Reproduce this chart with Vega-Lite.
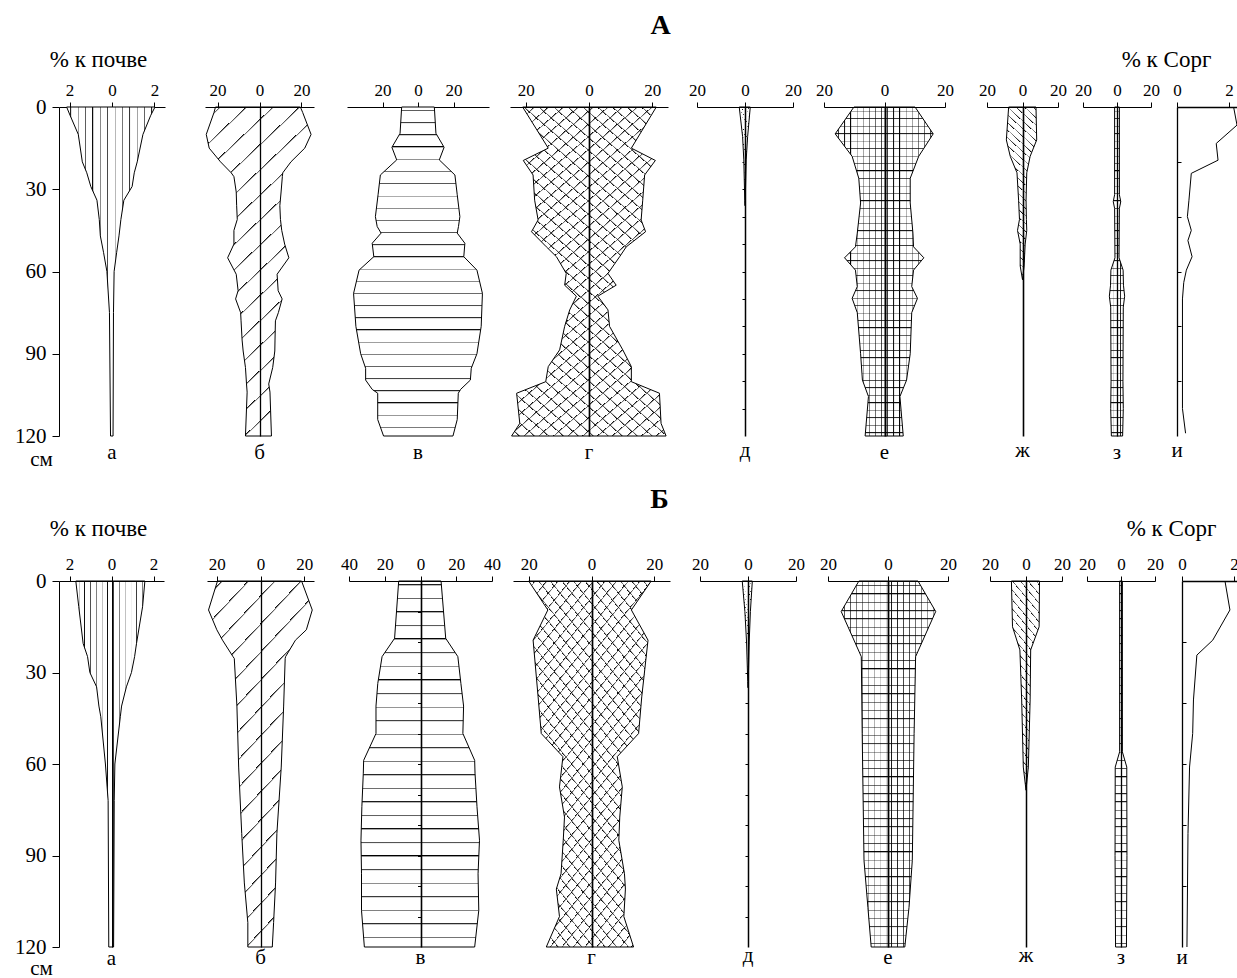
{
"$schema":"https://vega.github.io/schema/vega-lite/v6.json",
"padding":{"left":14,"top":11,"right":0,"bottom":0},
"background":"white",
"params":[
{"name":"G_hv","value":{"gradient":"linear","x1":0,"y1":0,"x2":1,"y2":0,"stops":[
{"offset":0.042,"color":"#fff"},{"offset":0.042,"color":"#000"},{"offset":0.057,"color":"#fff"},
{"offset":0.125,"color":"#fff"},{"offset":0.125,"color":"#000"},{"offset":0.14,"color":"#fff"},
{"offset":0.208,"color":"#fff"},{"offset":0.208,"color":"#000"},{"offset":0.223,"color":"#fff"},
{"offset":0.292,"color":"#fff"},{"offset":0.292,"color":"#000"},{"offset":0.307,"color":"#fff"},
{"offset":0.375,"color":"#fff"},{"offset":0.375,"color":"#000"},{"offset":0.39,"color":"#fff"},
{"offset":0.458,"color":"#fff"},{"offset":0.458,"color":"#000"},{"offset":0.473,"color":"#fff"},
{"offset":0.542,"color":"#fff"},{"offset":0.542,"color":"#000"},{"offset":0.557,"color":"#fff"},
{"offset":0.625,"color":"#fff"},{"offset":0.625,"color":"#000"},{"offset":0.64,"color":"#fff"},
{"offset":0.708,"color":"#fff"},{"offset":0.708,"color":"#000"},{"offset":0.723,"color":"#fff"},
{"offset":0.792,"color":"#fff"},{"offset":0.792,"color":"#000"},{"offset":0.807,"color":"#fff"},
{"offset":0.875,"color":"#fff"},{"offset":0.875,"color":"#000"},{"offset":0.89,"color":"#fff"},
{"offset":0.958,"color":"#fff"},{"offset":0.958,"color":"#000"},{"offset":0.973,"color":"#fff"}]}},
{"name":"G_hh","value":{"gradient":"linear","x1":0,"y1":0,"x2":0,"y2":1,"stops":[
{"offset":0.009,"color":"#fff"},{"offset":0.009,"color":"#000"},{"offset":0.0135,"color":"#fff"},
{"offset":0.046,"color":"#fff"},{"offset":0.046,"color":"#000"},{"offset":0.0505,"color":"#fff"},
{"offset":0.083,"color":"#fff"},{"offset":0.083,"color":"#000"},{"offset":0.0875,"color":"#fff"},
{"offset":0.12,"color":"#fff"},{"offset":0.12,"color":"#000"},{"offset":0.1245,"color":"#fff"},
{"offset":0.157,"color":"#fff"},{"offset":0.157,"color":"#000"},{"offset":0.1615,"color":"#fff"},
{"offset":0.194,"color":"#fff"},{"offset":0.194,"color":"#000"},{"offset":0.1985,"color":"#fff"},
{"offset":0.231,"color":"#fff"},{"offset":0.231,"color":"#000"},{"offset":0.2355,"color":"#fff"},
{"offset":0.269,"color":"#fff"},{"offset":0.269,"color":"#000"},{"offset":0.2735,"color":"#fff"},
{"offset":0.306,"color":"#fff"},{"offset":0.306,"color":"#000"},{"offset":0.3105,"color":"#fff"},
{"offset":0.343,"color":"#fff"},{"offset":0.343,"color":"#000"},{"offset":0.3475,"color":"#fff"},
{"offset":0.38,"color":"#fff"},{"offset":0.38,"color":"#000"},{"offset":0.3845,"color":"#fff"},
{"offset":0.417,"color":"#fff"},{"offset":0.417,"color":"#000"},{"offset":0.4215,"color":"#fff"},
{"offset":0.454,"color":"#fff"},{"offset":0.454,"color":"#000"},{"offset":0.4585,"color":"#fff"},
{"offset":0.491,"color":"#fff"},{"offset":0.491,"color":"#000"},{"offset":0.4955,"color":"#fff"},
{"offset":0.528,"color":"#fff"},{"offset":0.528,"color":"#000"},{"offset":0.5325,"color":"#fff"},
{"offset":0.565,"color":"#fff"},{"offset":0.565,"color":"#000"},{"offset":0.5695,"color":"#fff"},
{"offset":0.602,"color":"#fff"},{"offset":0.602,"color":"#000"},{"offset":0.6065,"color":"#fff"},
{"offset":0.639,"color":"#fff"},{"offset":0.639,"color":"#000"},{"offset":0.6435,"color":"#fff"},
{"offset":0.676,"color":"#fff"},{"offset":0.676,"color":"#000"},{"offset":0.6805,"color":"#fff"},
{"offset":0.713,"color":"#fff"},{"offset":0.713,"color":"#000"},{"offset":0.7175,"color":"#fff"},
{"offset":0.75,"color":"#fff"},{"offset":0.75,"color":"#000"},{"offset":0.7545,"color":"#fff"},
{"offset":0.787,"color":"#fff"},{"offset":0.787,"color":"#000"},{"offset":0.7915,"color":"#fff"},
{"offset":0.824,"color":"#fff"},{"offset":0.824,"color":"#000"},{"offset":0.8285,"color":"#fff"},
{"offset":0.861,"color":"#fff"},{"offset":0.861,"color":"#000"},{"offset":0.8655,"color":"#fff"},
{"offset":0.898,"color":"#fff"},{"offset":0.898,"color":"#000"},{"offset":0.9025,"color":"#fff"},
{"offset":0.935,"color":"#fff"},{"offset":0.935,"color":"#000"},{"offset":0.9395,"color":"#fff"},
{"offset":0.972,"color":"#fff"},{"offset":0.972,"color":"#000"},{"offset":0.9765,"color":"#fff"}]}},
{"name":"G_hd","value":{"gradient":"linear","x1":0,"y1":0,"x2":0.36,"y2":1.19,"stops":[
{"offset":0.029,"color":"#fff"},{"offset":0.029,"color":"#000"},{"offset":0.034,"color":"#fff"},
{"offset":0.088,"color":"#fff"},{"offset":0.088,"color":"#000"},{"offset":0.093,"color":"#fff"},
{"offset":0.147,"color":"#fff"},{"offset":0.147,"color":"#000"},{"offset":0.152,"color":"#fff"},
{"offset":0.206,"color":"#fff"},{"offset":0.206,"color":"#000"},{"offset":0.211,"color":"#fff"},
{"offset":0.265,"color":"#fff"},{"offset":0.265,"color":"#000"},{"offset":0.27,"color":"#fff"},
{"offset":0.324,"color":"#fff"},{"offset":0.324,"color":"#000"},{"offset":0.329,"color":"#fff"},
{"offset":0.382,"color":"#fff"},{"offset":0.382,"color":"#000"},{"offset":0.387,"color":"#fff"},
{"offset":0.441,"color":"#fff"},{"offset":0.441,"color":"#000"},{"offset":0.446,"color":"#fff"},
{"offset":0.5,"color":"#fff"},{"offset":0.5,"color":"#000"},{"offset":0.505,"color":"#fff"},
{"offset":0.559,"color":"#fff"},{"offset":0.559,"color":"#000"},{"offset":0.564,"color":"#fff"},
{"offset":0.618,"color":"#fff"},{"offset":0.618,"color":"#000"},{"offset":0.623,"color":"#fff"},
{"offset":0.676,"color":"#fff"},{"offset":0.676,"color":"#000"},{"offset":0.681,"color":"#fff"},
{"offset":0.735,"color":"#fff"},{"offset":0.735,"color":"#000"},{"offset":0.74,"color":"#fff"},
{"offset":0.794,"color":"#fff"},{"offset":0.794,"color":"#000"},{"offset":0.799,"color":"#fff"},
{"offset":0.853,"color":"#fff"},{"offset":0.853,"color":"#000"},{"offset":0.858,"color":"#fff"},
{"offset":0.912,"color":"#fff"},{"offset":0.912,"color":"#000"},{"offset":0.917,"color":"#fff"},
{"offset":0.971,"color":"#fff"},{"offset":0.971,"color":"#000"},{"offset":0.976,"color":"#fff"}]}},
{"name":"G_g1","value":{"gradient":"linear","x1":0,"y1":0,"x2":0.49,"y2":1.2,"stops":[
{"offset":0.014,"color":"#fff"},{"offset":0.014,"color":"#000"},{"offset":0.018,"color":"#fff"},
{"offset":0.042,"color":"#fff"},{"offset":0.042,"color":"#000"},{"offset":0.046,"color":"#fff"},
{"offset":0.069,"color":"#fff"},{"offset":0.069,"color":"#000"},{"offset":0.073,"color":"#fff"},
{"offset":0.097,"color":"#fff"},{"offset":0.097,"color":"#000"},{"offset":0.101,"color":"#fff"},
{"offset":0.125,"color":"#fff"},{"offset":0.125,"color":"#000"},{"offset":0.129,"color":"#fff"},
{"offset":0.153,"color":"#fff"},{"offset":0.153,"color":"#000"},{"offset":0.157,"color":"#fff"},
{"offset":0.181,"color":"#fff"},{"offset":0.181,"color":"#000"},{"offset":0.185,"color":"#fff"},
{"offset":0.208,"color":"#fff"},{"offset":0.208,"color":"#000"},{"offset":0.212,"color":"#fff"},
{"offset":0.236,"color":"#fff"},{"offset":0.236,"color":"#000"},{"offset":0.24,"color":"#fff"},
{"offset":0.264,"color":"#fff"},{"offset":0.264,"color":"#000"},{"offset":0.268,"color":"#fff"},
{"offset":0.292,"color":"#fff"},{"offset":0.292,"color":"#000"},{"offset":0.296,"color":"#fff"},
{"offset":0.319,"color":"#fff"},{"offset":0.319,"color":"#000"},{"offset":0.323,"color":"#fff"},
{"offset":0.347,"color":"#fff"},{"offset":0.347,"color":"#000"},{"offset":0.351,"color":"#fff"},
{"offset":0.375,"color":"#fff"},{"offset":0.375,"color":"#000"},{"offset":0.379,"color":"#fff"},
{"offset":0.403,"color":"#fff"},{"offset":0.403,"color":"#000"},{"offset":0.407,"color":"#fff"},
{"offset":0.431,"color":"#fff"},{"offset":0.431,"color":"#000"},{"offset":0.435,"color":"#fff"},
{"offset":0.458,"color":"#fff"},{"offset":0.458,"color":"#000"},{"offset":0.462,"color":"#fff"},
{"offset":0.486,"color":"#fff"},{"offset":0.486,"color":"#000"},{"offset":0.49,"color":"#fff"},
{"offset":0.514,"color":"#fff"},{"offset":0.514,"color":"#000"},{"offset":0.518,"color":"#fff"},
{"offset":0.542,"color":"#fff"},{"offset":0.542,"color":"#000"},{"offset":0.546,"color":"#fff"},
{"offset":0.569,"color":"#fff"},{"offset":0.569,"color":"#000"},{"offset":0.573,"color":"#fff"},
{"offset":0.597,"color":"#fff"},{"offset":0.597,"color":"#000"},{"offset":0.601,"color":"#fff"},
{"offset":0.625,"color":"#fff"},{"offset":0.625,"color":"#000"},{"offset":0.629,"color":"#fff"},
{"offset":0.653,"color":"#fff"},{"offset":0.653,"color":"#000"},{"offset":0.657,"color":"#fff"},
{"offset":0.681,"color":"#fff"},{"offset":0.681,"color":"#000"},{"offset":0.685,"color":"#fff"},
{"offset":0.708,"color":"#fff"},{"offset":0.708,"color":"#000"},{"offset":0.712,"color":"#fff"},
{"offset":0.736,"color":"#fff"},{"offset":0.736,"color":"#000"},{"offset":0.74,"color":"#fff"},
{"offset":0.764,"color":"#fff"},{"offset":0.764,"color":"#000"},{"offset":0.768,"color":"#fff"},
{"offset":0.792,"color":"#fff"},{"offset":0.792,"color":"#000"},{"offset":0.796,"color":"#fff"},
{"offset":0.819,"color":"#fff"},{"offset":0.819,"color":"#000"},{"offset":0.823,"color":"#fff"},
{"offset":0.847,"color":"#fff"},{"offset":0.847,"color":"#000"},{"offset":0.851,"color":"#fff"},
{"offset":0.875,"color":"#fff"},{"offset":0.875,"color":"#000"},{"offset":0.879,"color":"#fff"},
{"offset":0.903,"color":"#fff"},{"offset":0.903,"color":"#000"},{"offset":0.907,"color":"#fff"},
{"offset":0.931,"color":"#fff"},{"offset":0.931,"color":"#000"},{"offset":0.935,"color":"#fff"},
{"offset":0.958,"color":"#fff"},{"offset":0.958,"color":"#000"},{"offset":0.962,"color":"#fff"},
{"offset":0.986,"color":"#fff"},{"offset":0.986,"color":"#000"},{"offset":0.99,"color":"#fff"}]}},
{"name":"G_g2","value":{"gradient":"linear","x1":0,"y1":1,"x2":0.49,"y2":-0.2,"stops":[
{"offset":0.014,"color":"rgba(0,0,0,0)"},{"offset":0.014,"color":"#000"},{"offset":0.018,"color":"rgba(0,0,0,0)"},
{"offset":0.042,"color":"rgba(0,0,0,0)"},{"offset":0.042,"color":"#000"},{"offset":0.046,"color":"rgba(0,0,0,0)"},
{"offset":0.069,"color":"rgba(0,0,0,0)"},{"offset":0.069,"color":"#000"},{"offset":0.073,"color":"rgba(0,0,0,0)"},
{"offset":0.097,"color":"rgba(0,0,0,0)"},{"offset":0.097,"color":"#000"},{"offset":0.101,"color":"rgba(0,0,0,0)"},
{"offset":0.125,"color":"rgba(0,0,0,0)"},{"offset":0.125,"color":"#000"},{"offset":0.129,"color":"rgba(0,0,0,0)"},
{"offset":0.153,"color":"rgba(0,0,0,0)"},{"offset":0.153,"color":"#000"},{"offset":0.157,"color":"rgba(0,0,0,0)"},
{"offset":0.181,"color":"rgba(0,0,0,0)"},{"offset":0.181,"color":"#000"},{"offset":0.185,"color":"rgba(0,0,0,0)"},
{"offset":0.208,"color":"rgba(0,0,0,0)"},{"offset":0.208,"color":"#000"},{"offset":0.212,"color":"rgba(0,0,0,0)"},
{"offset":0.236,"color":"rgba(0,0,0,0)"},{"offset":0.236,"color":"#000"},{"offset":0.24,"color":"rgba(0,0,0,0)"},
{"offset":0.264,"color":"rgba(0,0,0,0)"},{"offset":0.264,"color":"#000"},{"offset":0.268,"color":"rgba(0,0,0,0)"},
{"offset":0.292,"color":"rgba(0,0,0,0)"},{"offset":0.292,"color":"#000"},{"offset":0.296,"color":"rgba(0,0,0,0)"},
{"offset":0.319,"color":"rgba(0,0,0,0)"},{"offset":0.319,"color":"#000"},{"offset":0.323,"color":"rgba(0,0,0,0)"},
{"offset":0.347,"color":"rgba(0,0,0,0)"},{"offset":0.347,"color":"#000"},{"offset":0.351,"color":"rgba(0,0,0,0)"},
{"offset":0.375,"color":"rgba(0,0,0,0)"},{"offset":0.375,"color":"#000"},{"offset":0.379,"color":"rgba(0,0,0,0)"},
{"offset":0.403,"color":"rgba(0,0,0,0)"},{"offset":0.403,"color":"#000"},{"offset":0.407,"color":"rgba(0,0,0,0)"},
{"offset":0.431,"color":"rgba(0,0,0,0)"},{"offset":0.431,"color":"#000"},{"offset":0.435,"color":"rgba(0,0,0,0)"},
{"offset":0.458,"color":"rgba(0,0,0,0)"},{"offset":0.458,"color":"#000"},{"offset":0.462,"color":"rgba(0,0,0,0)"},
{"offset":0.486,"color":"rgba(0,0,0,0)"},{"offset":0.486,"color":"#000"},{"offset":0.49,"color":"rgba(0,0,0,0)"},
{"offset":0.514,"color":"rgba(0,0,0,0)"},{"offset":0.514,"color":"#000"},{"offset":0.518,"color":"rgba(0,0,0,0)"},
{"offset":0.542,"color":"rgba(0,0,0,0)"},{"offset":0.542,"color":"#000"},{"offset":0.546,"color":"rgba(0,0,0,0)"},
{"offset":0.569,"color":"rgba(0,0,0,0)"},{"offset":0.569,"color":"#000"},{"offset":0.573,"color":"rgba(0,0,0,0)"},
{"offset":0.597,"color":"rgba(0,0,0,0)"},{"offset":0.597,"color":"#000"},{"offset":0.601,"color":"rgba(0,0,0,0)"},
{"offset":0.625,"color":"rgba(0,0,0,0)"},{"offset":0.625,"color":"#000"},{"offset":0.629,"color":"rgba(0,0,0,0)"},
{"offset":0.653,"color":"rgba(0,0,0,0)"},{"offset":0.653,"color":"#000"},{"offset":0.657,"color":"rgba(0,0,0,0)"},
{"offset":0.681,"color":"rgba(0,0,0,0)"},{"offset":0.681,"color":"#000"},{"offset":0.685,"color":"rgba(0,0,0,0)"},
{"offset":0.708,"color":"rgba(0,0,0,0)"},{"offset":0.708,"color":"#000"},{"offset":0.712,"color":"rgba(0,0,0,0)"},
{"offset":0.736,"color":"rgba(0,0,0,0)"},{"offset":0.736,"color":"#000"},{"offset":0.74,"color":"rgba(0,0,0,0)"},
{"offset":0.764,"color":"rgba(0,0,0,0)"},{"offset":0.764,"color":"#000"},{"offset":0.768,"color":"rgba(0,0,0,0)"},
{"offset":0.792,"color":"rgba(0,0,0,0)"},{"offset":0.792,"color":"#000"},{"offset":0.796,"color":"rgba(0,0,0,0)"},
{"offset":0.819,"color":"rgba(0,0,0,0)"},{"offset":0.819,"color":"#000"},{"offset":0.823,"color":"rgba(0,0,0,0)"},
{"offset":0.847,"color":"rgba(0,0,0,0)"},{"offset":0.847,"color":"#000"},{"offset":0.851,"color":"rgba(0,0,0,0)"},
{"offset":0.875,"color":"rgba(0,0,0,0)"},{"offset":0.875,"color":"#000"},{"offset":0.879,"color":"rgba(0,0,0,0)"},
{"offset":0.903,"color":"rgba(0,0,0,0)"},{"offset":0.903,"color":"#000"},{"offset":0.907,"color":"rgba(0,0,0,0)"},
{"offset":0.931,"color":"rgba(0,0,0,0)"},{"offset":0.931,"color":"#000"},{"offset":0.935,"color":"rgba(0,0,0,0)"},
{"offset":0.958,"color":"rgba(0,0,0,0)"},{"offset":0.958,"color":"#000"},{"offset":0.962,"color":"rgba(0,0,0,0)"},
{"offset":0.986,"color":"rgba(0,0,0,0)"},{"offset":0.986,"color":"#000"},{"offset":0.99,"color":"rgba(0,0,0,0)"}]}},
{"name":"G_jd","value":{"gradient":"linear","x1":0,"y1":1,"x2":0.18,"y2":-0.13,"stops":[
{"offset":0.019,"color":"#fff"},{"offset":0.019,"color":"#000"},{"offset":0.026,"color":"#fff"},
{"offset":0.058,"color":"#fff"},{"offset":0.058,"color":"#000"},{"offset":0.065,"color":"#fff"},
{"offset":0.096,"color":"#fff"},{"offset":0.096,"color":"#000"},{"offset":0.103,"color":"#fff"},
{"offset":0.135,"color":"#fff"},{"offset":0.135,"color":"#000"},{"offset":0.142,"color":"#fff"},
{"offset":0.173,"color":"#fff"},{"offset":0.173,"color":"#000"},{"offset":0.18,"color":"#fff"},
{"offset":0.212,"color":"#fff"},{"offset":0.212,"color":"#000"},{"offset":0.219,"color":"#fff"},
{"offset":0.25,"color":"#fff"},{"offset":0.25,"color":"#000"},{"offset":0.257,"color":"#fff"},
{"offset":0.288,"color":"#fff"},{"offset":0.288,"color":"#000"},{"offset":0.295,"color":"#fff"},
{"offset":0.327,"color":"#fff"},{"offset":0.327,"color":"#000"},{"offset":0.334,"color":"#fff"},
{"offset":0.365,"color":"#fff"},{"offset":0.365,"color":"#000"},{"offset":0.372,"color":"#fff"},
{"offset":0.404,"color":"#fff"},{"offset":0.404,"color":"#000"},{"offset":0.411,"color":"#fff"},
{"offset":0.442,"color":"#fff"},{"offset":0.442,"color":"#000"},{"offset":0.449,"color":"#fff"},
{"offset":0.481,"color":"#fff"},{"offset":0.481,"color":"#000"},{"offset":0.488,"color":"#fff"},
{"offset":0.519,"color":"#fff"},{"offset":0.519,"color":"#000"},{"offset":0.526,"color":"#fff"},
{"offset":0.558,"color":"#fff"},{"offset":0.558,"color":"#000"},{"offset":0.565,"color":"#fff"},
{"offset":0.596,"color":"#fff"},{"offset":0.596,"color":"#000"},{"offset":0.603,"color":"#fff"},
{"offset":0.635,"color":"#fff"},{"offset":0.635,"color":"#000"},{"offset":0.642,"color":"#fff"},
{"offset":0.673,"color":"#fff"},{"offset":0.673,"color":"#000"},{"offset":0.68,"color":"#fff"},
{"offset":0.712,"color":"#fff"},{"offset":0.712,"color":"#000"},{"offset":0.719,"color":"#fff"},
{"offset":0.75,"color":"#fff"},{"offset":0.75,"color":"#000"},{"offset":0.757,"color":"#fff"},
{"offset":0.788,"color":"#fff"},{"offset":0.788,"color":"#000"},{"offset":0.795,"color":"#fff"},
{"offset":0.827,"color":"#fff"},{"offset":0.827,"color":"#000"},{"offset":0.834,"color":"#fff"},
{"offset":0.865,"color":"#fff"},{"offset":0.865,"color":"#000"},{"offset":0.872,"color":"#fff"},
{"offset":0.904,"color":"#fff"},{"offset":0.904,"color":"#000"},{"offset":0.911,"color":"#fff"},
{"offset":0.942,"color":"#fff"},{"offset":0.942,"color":"#000"},{"offset":0.949,"color":"#fff"},
{"offset":0.981,"color":"#fff"},{"offset":0.981,"color":"#000"},{"offset":0.988,"color":"#fff"}]}},
{"name":"G_eh","value":{"gradient":"linear","x1":0,"y1":0,"x2":0,"y2":1,"stops":[
{"offset":0.011,"color":"#fff"},{"offset":0.011,"color":"#000"},{"offset":0.015,"color":"#fff"},
{"offset":0.034,"color":"#fff"},{"offset":0.034,"color":"#000"},{"offset":0.038,"color":"#fff"},
{"offset":0.057,"color":"#fff"},{"offset":0.057,"color":"#000"},{"offset":0.061,"color":"#fff"},
{"offset":0.08,"color":"#fff"},{"offset":0.08,"color":"#000"},{"offset":0.084,"color":"#fff"},
{"offset":0.102,"color":"#fff"},{"offset":0.102,"color":"#000"},{"offset":0.106,"color":"#fff"},
{"offset":0.125,"color":"#fff"},{"offset":0.125,"color":"#000"},{"offset":0.129,"color":"#fff"},
{"offset":0.148,"color":"#fff"},{"offset":0.148,"color":"#000"},{"offset":0.152,"color":"#fff"},
{"offset":0.17,"color":"#fff"},{"offset":0.17,"color":"#000"},{"offset":0.174,"color":"#fff"},
{"offset":0.193,"color":"#fff"},{"offset":0.193,"color":"#000"},{"offset":0.197,"color":"#fff"},
{"offset":0.216,"color":"#fff"},{"offset":0.216,"color":"#000"},{"offset":0.22,"color":"#fff"},
{"offset":0.239,"color":"#fff"},{"offset":0.239,"color":"#000"},{"offset":0.243,"color":"#fff"},
{"offset":0.261,"color":"#fff"},{"offset":0.261,"color":"#000"},{"offset":0.265,"color":"#fff"},
{"offset":0.284,"color":"#fff"},{"offset":0.284,"color":"#000"},{"offset":0.288,"color":"#fff"},
{"offset":0.307,"color":"#fff"},{"offset":0.307,"color":"#000"},{"offset":0.311,"color":"#fff"},
{"offset":0.33,"color":"#fff"},{"offset":0.33,"color":"#000"},{"offset":0.334,"color":"#fff"},
{"offset":0.352,"color":"#fff"},{"offset":0.352,"color":"#000"},{"offset":0.356,"color":"#fff"},
{"offset":0.375,"color":"#fff"},{"offset":0.375,"color":"#000"},{"offset":0.379,"color":"#fff"},
{"offset":0.398,"color":"#fff"},{"offset":0.398,"color":"#000"},{"offset":0.402,"color":"#fff"},
{"offset":0.42,"color":"#fff"},{"offset":0.42,"color":"#000"},{"offset":0.424,"color":"#fff"},
{"offset":0.443,"color":"#fff"},{"offset":0.443,"color":"#000"},{"offset":0.447,"color":"#fff"},
{"offset":0.466,"color":"#fff"},{"offset":0.466,"color":"#000"},{"offset":0.47,"color":"#fff"},
{"offset":0.489,"color":"#fff"},{"offset":0.489,"color":"#000"},{"offset":0.493,"color":"#fff"},
{"offset":0.511,"color":"#fff"},{"offset":0.511,"color":"#000"},{"offset":0.515,"color":"#fff"},
{"offset":0.534,"color":"#fff"},{"offset":0.534,"color":"#000"},{"offset":0.538,"color":"#fff"},
{"offset":0.557,"color":"#fff"},{"offset":0.557,"color":"#000"},{"offset":0.561,"color":"#fff"},
{"offset":0.58,"color":"#fff"},{"offset":0.58,"color":"#000"},{"offset":0.584,"color":"#fff"},
{"offset":0.602,"color":"#fff"},{"offset":0.602,"color":"#000"},{"offset":0.606,"color":"#fff"},
{"offset":0.625,"color":"#fff"},{"offset":0.625,"color":"#000"},{"offset":0.629,"color":"#fff"},
{"offset":0.648,"color":"#fff"},{"offset":0.648,"color":"#000"},{"offset":0.652,"color":"#fff"},
{"offset":0.67,"color":"#fff"},{"offset":0.67,"color":"#000"},{"offset":0.674,"color":"#fff"},
{"offset":0.693,"color":"#fff"},{"offset":0.693,"color":"#000"},{"offset":0.697,"color":"#fff"},
{"offset":0.716,"color":"#fff"},{"offset":0.716,"color":"#000"},{"offset":0.72,"color":"#fff"},
{"offset":0.739,"color":"#fff"},{"offset":0.739,"color":"#000"},{"offset":0.743,"color":"#fff"},
{"offset":0.761,"color":"#fff"},{"offset":0.761,"color":"#000"},{"offset":0.765,"color":"#fff"},
{"offset":0.784,"color":"#fff"},{"offset":0.784,"color":"#000"},{"offset":0.788,"color":"#fff"},
{"offset":0.807,"color":"#fff"},{"offset":0.807,"color":"#000"},{"offset":0.811,"color":"#fff"},
{"offset":0.83,"color":"#fff"},{"offset":0.83,"color":"#000"},{"offset":0.834,"color":"#fff"},
{"offset":0.852,"color":"#fff"},{"offset":0.852,"color":"#000"},{"offset":0.856,"color":"#fff"},
{"offset":0.875,"color":"#fff"},{"offset":0.875,"color":"#000"},{"offset":0.879,"color":"#fff"},
{"offset":0.898,"color":"#fff"},{"offset":0.898,"color":"#000"},{"offset":0.902,"color":"#fff"},
{"offset":0.92,"color":"#fff"},{"offset":0.92,"color":"#000"},{"offset":0.924,"color":"#fff"},
{"offset":0.943,"color":"#fff"},{"offset":0.943,"color":"#000"},{"offset":0.947,"color":"#fff"},
{"offset":0.966,"color":"#fff"},{"offset":0.966,"color":"#000"},{"offset":0.97,"color":"#fff"},
{"offset":0.989,"color":"#fff"},{"offset":0.989,"color":"#000"},{"offset":0.993,"color":"#fff"}]}},
{"name":"G_ev","value":{"gradient":"linear","x1":0,"y1":0,"x2":1,"y2":0,"stops":[
{"offset":0.031,"color":"rgba(0,0,0,0)"},{"offset":0.031,"color":"#000"},{"offset":0.043,"color":"rgba(0,0,0,0)"},
{"offset":0.094,"color":"rgba(0,0,0,0)"},{"offset":0.094,"color":"#000"},{"offset":0.106,"color":"rgba(0,0,0,0)"},
{"offset":0.156,"color":"rgba(0,0,0,0)"},{"offset":0.156,"color":"#000"},{"offset":0.168,"color":"rgba(0,0,0,0)"},
{"offset":0.219,"color":"rgba(0,0,0,0)"},{"offset":0.219,"color":"#000"},{"offset":0.231,"color":"rgba(0,0,0,0)"},
{"offset":0.281,"color":"rgba(0,0,0,0)"},{"offset":0.281,"color":"#000"},{"offset":0.293,"color":"rgba(0,0,0,0)"},
{"offset":0.344,"color":"rgba(0,0,0,0)"},{"offset":0.344,"color":"#000"},{"offset":0.356,"color":"rgba(0,0,0,0)"},
{"offset":0.406,"color":"rgba(0,0,0,0)"},{"offset":0.406,"color":"#000"},{"offset":0.418,"color":"rgba(0,0,0,0)"},
{"offset":0.469,"color":"rgba(0,0,0,0)"},{"offset":0.469,"color":"#000"},{"offset":0.481,"color":"rgba(0,0,0,0)"},
{"offset":0.531,"color":"rgba(0,0,0,0)"},{"offset":0.531,"color":"#000"},{"offset":0.543,"color":"rgba(0,0,0,0)"},
{"offset":0.594,"color":"rgba(0,0,0,0)"},{"offset":0.594,"color":"#000"},{"offset":0.606,"color":"rgba(0,0,0,0)"},
{"offset":0.656,"color":"rgba(0,0,0,0)"},{"offset":0.656,"color":"#000"},{"offset":0.668,"color":"rgba(0,0,0,0)"},
{"offset":0.719,"color":"rgba(0,0,0,0)"},{"offset":0.719,"color":"#000"},{"offset":0.731,"color":"rgba(0,0,0,0)"},
{"offset":0.781,"color":"rgba(0,0,0,0)"},{"offset":0.781,"color":"#000"},{"offset":0.793,"color":"rgba(0,0,0,0)"},
{"offset":0.844,"color":"rgba(0,0,0,0)"},{"offset":0.844,"color":"#000"},{"offset":0.856,"color":"rgba(0,0,0,0)"},
{"offset":0.906,"color":"rgba(0,0,0,0)"},{"offset":0.906,"color":"#000"},{"offset":0.918,"color":"rgba(0,0,0,0)"},
{"offset":0.969,"color":"rgba(0,0,0,0)"},{"offset":0.969,"color":"#000"},{"offset":0.981,"color":"rgba(0,0,0,0)"}]}},
{"name":"G_zv","value":{"gradient":"linear","x1":0,"y1":0,"x2":1,"y2":0,"stops":[
{"offset":0.22,"color":"rgba(0,0,0,0)"},{"offset":0.22,"color":"#000"},{"offset":0.28,"color":"rgba(0,0,0,0)"},
{"offset":0.72,"color":"rgba(0,0,0,0)"},{"offset":0.72,"color":"#000"},{"offset":0.78,"color":"rgba(0,0,0,0)"}]}}
],
"datasets":{
"A":[
{"p":"a","d":0,"lo":-2.14,"hi":2.03},{"p":"a","d":3,"lo":-1.98,"hi":1.83},{"p":"a","d":10,"lo":-1.59,"hi":1.46},{"p":"a","d":20,"lo":-1.4,"hi":1.19},{"p":"a","d":24,"lo":-1.19,"hi":1.05},{"p":"a","d":29,"lo":-1.0,"hi":0.95},{"p":"a","d":34,"lo":-0.71,"hi":0.56},{"p":"a","d":41,"lo":-0.6,"hi":0.42},{"p":"a","d":47,"lo":-0.55,"hi":0.33},{"p":"a","d":53,"lo":-0.4,"hi":0.22},{"p":"a","d":60,"lo":-0.24,"hi":0.1},{"p":"a","d":75,"lo":-0.12,"hi":0.07},{"p":"a","d":120,"lo":-0.07,"hi":0.05},
{"p":"b","d":0,"lo":-21,"hi":19.5},{"p":"b","d":2,"lo":-21.7,"hi":20.6},{"p":"b","d":10,"lo":-25.4,"hi":24.6},{"p":"b","d":15,"lo":-24,"hi":21.6},{"p":"b","d":20,"lo":-18.6,"hi":15},{"p":"b","d":24,"lo":-13.5,"hi":11.1},{"p":"b","d":25.4,"lo":-12.2,"hi":10.9},{"p":"b","d":31,"lo":-11.1,"hi":10.3},{"p":"b","d":36,"lo":-10.9,"hi":9.7},{"p":"b","d":41,"lo":-10.6,"hi":10},{"p":"b","d":45,"lo":-12.2,"hi":10.6},{"p":"b","d":50,"lo":-12.2,"hi":12},{"p":"b","d":55,"lo":-15.2,"hi":14},{"p":"b","d":61,"lo":-11.1,"hi":8.4},{"p":"b","d":67,"lo":-10.2,"hi":8.9},{"p":"b","d":70,"lo":-11.4,"hi":10.8},{"p":"b","d":75,"lo":-9,"hi":9},{"p":"b","d":78,"lo":-8.8,"hi":7.6},{"p":"b","d":85,"lo":-8.3,"hi":7.4},{"p":"b","d":89,"lo":-7.8,"hi":7.3},{"p":"b","d":95,"lo":-6.7,"hi":6.3},{"p":"b","d":101,"lo":-6.2,"hi":4.4},{"p":"b","d":104,"lo":-5.9,"hi":5},{"p":"b","d":120,"lo":-6.7,"hi":5.7},
{"p":"v","d":0,"lo":-9.2,"hi":9.2},{"p":"v","d":9.6,"lo":-10.1,"hi":10.1},{"p":"v","d":14.7,"lo":-14.7,"hi":14.7},{"p":"v","d":19.3,"lo":-12,"hi":12},{"p":"v","d":24.8,"lo":-21.2,"hi":20.8},{"p":"v","d":32,"lo":-22.5,"hi":22.1},{"p":"v","d":40,"lo":-24,"hi":23.6},{"p":"v","d":43.6,"lo":-23,"hi":22.8},{"p":"v","d":46,"lo":-20.8,"hi":22.1},{"p":"v","d":49.7,"lo":-25.8,"hi":26.4},{"p":"v","d":54.6,"lo":-24.9,"hi":25.8},{"p":"v","d":59.5,"lo":-33.2,"hi":33.2},{"p":"v","d":68,"lo":-36.3,"hi":36.3},{"p":"v","d":80,"lo":-35,"hi":35.6},{"p":"v","d":90,"lo":-32.3,"hi":33.2},{"p":"v","d":95.3,"lo":-29.5,"hi":30},{"p":"v","d":99.6,"lo":-29.5,"hi":29.5},{"p":"v","d":103,"lo":-25.8,"hi":24},{"p":"v","d":104.4,"lo":-22.7,"hi":22.7},{"p":"v","d":114,"lo":-22.7,"hi":22.1},{"p":"v","d":120,"lo":-19.4,"hi":19.7},
{"p":"g","d":0,"lo":-21,"hi":21.3},{"p":"g","d":15,"lo":-12.9,"hi":13.4},{"p":"g","d":19.5,"lo":-20.8,"hi":21},{"p":"g","d":24.8,"lo":-17.7,"hi":17.6},{"p":"g","d":34,"lo":-17.2,"hi":17},{"p":"g","d":41.2,"lo":-16.1,"hi":16.5},{"p":"g","d":45.5,"lo":-18.2,"hi":17.9},{"p":"g","d":51,"lo":-13.5,"hi":11.8},{"p":"g","d":54.6,"lo":-10.3,"hi":9.7},{"p":"g","d":60.7,"lo":-7.2,"hi":6},{"p":"g","d":65,"lo":-7.7,"hi":8.6},{"p":"g","d":69,"lo":-4,"hi":2.8},{"p":"g","d":74,"lo":-6.1,"hi":6},{"p":"g","d":80,"lo":-7.7,"hi":6.5},{"p":"g","d":88.6,"lo":-9.3,"hi":10.7},{"p":"g","d":94.7,"lo":-12.9,"hi":13.4},{"p":"g","d":100.2,"lo":-13.7,"hi":13.4},{"p":"g","d":104.4,"lo":-22.9,"hi":22.3},{"p":"g","d":115.4,"lo":-21.9,"hi":22.8},{"p":"g","d":120,"lo":-24.5,"hi":24.4},
{"p":"d","d":0,"lo":-2.4,"hi":2.2},{"p":"d","d":10.8,"lo":-1.0,"hi":1.1},{"p":"d","d":19.3,"lo":-0.5,"hi":0.5},{"p":"d","d":34,"lo":-0.1,"hi":0.1},{"p":"d","d":36,"lo":0,"hi":0},
{"p":"e","d":0,"lo":-10.1,"hi":10.1},{"p":"e","d":9.8,"lo":-16.3,"hi":16.1},{"p":"e","d":18,"lo":-10.7,"hi":11.3},{"p":"e","d":26,"lo":-8.5,"hi":8.5},{"p":"e","d":35,"lo":-7.9,"hi":8.5},{"p":"e","d":46,"lo":-9,"hi":9.4},{"p":"e","d":51,"lo":-9.6,"hi":9.6},{"p":"e","d":55,"lo":-13.2,"hi":13},{"p":"e","d":59.5,"lo":-9.6,"hi":9.6},{"p":"e","d":65.5,"lo":-9,"hi":9},{"p":"e","d":69.8,"lo":-10.7,"hi":10.9},{"p":"e","d":75,"lo":-9,"hi":9},{"p":"e","d":90,"lo":-7.9,"hi":8.5},{"p":"e","d":99.6,"lo":-7.3,"hi":7.3},{"p":"e","d":105.6,"lo":-5.3,"hi":5.1},{"p":"e","d":120,"lo":-6.4,"hi":6.2},
{"p":"zh","d":0,"lo":-7.8,"hi":7.6},{"p":"zh","d":12,"lo":-9.1,"hi":8},{"p":"zh","d":18,"lo":-6.9,"hi":4.3},{"p":"zh","d":24,"lo":-3.1,"hi":2.4},{"p":"zh","d":34,"lo":-2.2,"hi":2},{"p":"zh","d":41,"lo":-1.7,"hi":2.2},{"p":"zh","d":45,"lo":-2.8,"hi":2.4},{"p":"zh","d":50,"lo":-1.3,"hi":1.5},{"p":"zh","d":58,"lo":-1.3,"hi":0.9},{"p":"zh","d":63,"lo":0,"hi":0},
{"p":"z","d":0,"lo":-1.4,"hi":1.4},{"p":"z","d":32,"lo":-1.4,"hi":1.4},{"p":"z","d":34.5,"lo":-2.2,"hi":2.2},{"p":"z","d":37,"lo":-1.4,"hi":1.4},{"p":"z","d":55,"lo":-1.2,"hi":1.2},{"p":"z","d":59.5,"lo":-3.6,"hi":3.6},{"p":"z","d":65,"lo":-3.8,"hi":3.8},{"p":"z","d":69,"lo":-4.5,"hi":4.5},{"p":"z","d":73,"lo":-3.7,"hi":3.7},{"p":"z","d":100,"lo":-3.5,"hi":3.5},{"p":"z","d":110,"lo":-3.7,"hi":3.7},{"p":"z","d":120,"lo":-3.3,"hi":3.3},
{"p":"i","d":0,"hi":2.18},{"p":"i","d":6.6,"hi":2.31},{"p":"i","d":13.3,"hi":1.51},{"p":"i","d":19.4,"hi":1.58},{"p":"i","d":24.2,"hi":0.55},{"p":"i","d":34,"hi":0.46},{"p":"i","d":40,"hi":0.4},{"p":"i","d":45,"hi":0.55},{"p":"i","d":48.7,"hi":0.42},{"p":"i","d":54.6,"hi":0.58},{"p":"i","d":59.5,"hi":0.36},{"p":"i","d":64,"hi":0.26},{"p":"i","d":70,"hi":0.21},{"p":"i","d":110,"hi":0.21},{"p":"i","d":119,"hi":0.33}
],
"B":[
{"p":"a","d":0,"lo":-1.7,"hi":1.59},{"p":"a","d":8.4,"lo":-1.56,"hi":1.48},{"p":"a","d":20.5,"lo":-1.35,"hi":1.19},{"p":"a","d":24.8,"lo":-1.14,"hi":1.1},{"p":"a","d":30,"lo":-1.03,"hi":0.95},{"p":"a","d":34.7,"lo":-0.71,"hi":0.71},{"p":"a","d":41,"lo":-0.6,"hi":0.48},{"p":"a","d":44.5,"lo":-0.51,"hi":0.42},{"p":"a","d":60,"lo":-0.29,"hi":0.16},{"p":"a","d":72,"lo":-0.16,"hi":0.13},{"p":"a","d":120,"lo":-0.13,"hi":0.1},
{"p":"b","d":0,"lo":-19.7,"hi":18.8},{"p":"b","d":9.5,"lo":-23.8,"hi":23.7},{"p":"b","d":16,"lo":-20,"hi":21},{"p":"b","d":19.4,"lo":-17.4,"hi":16},{"p":"b","d":24.8,"lo":-12.6,"hi":11.5},{"p":"b","d":25.4,"lo":-12,"hi":11.3},{"p":"b","d":41,"lo":-10.8,"hi":10.6},{"p":"b","d":61,"lo":-10,"hi":9.5},{"p":"b","d":82.8,"lo":-8.6,"hi":7.5},{"p":"b","d":99,"lo":-7.4,"hi":6.9},{"p":"b","d":112,"lo":-5.8,"hi":6},{"p":"b","d":120,"lo":-5.8,"hi":5.4},
{"p":"v","d":0,"lo":-12.2,"hi":11.5},{"p":"v","d":18.8,"lo":-14.5,"hi":14.1},{"p":"v","d":24.8,"lo":-21.5,"hi":20.9},{"p":"v","d":33.6,"lo":-23.9,"hi":22.6},{"p":"v","d":41,"lo":-24.9,"hi":24.1},{"p":"v","d":50,"lo":-24.9,"hi":23.7},{"p":"v","d":58.8,"lo":-31.8,"hi":30.3},{"p":"v","d":63,"lo":-32,"hi":30.5},{"p":"v","d":74,"lo":-32.8,"hi":31.6},{"p":"v","d":85,"lo":-33.3,"hi":33},{"p":"v","d":96,"lo":-33,"hi":32.2},{"p":"v","d":108,"lo":-33,"hi":32.6},{"p":"v","d":120,"lo":-31.4,"hi":30.3},
{"p":"g","d":0,"lo":-20,"hi":19},{"p":"g","d":9.5,"lo":-13.9,"hi":12.7},{"p":"g","d":19.4,"lo":-18.6,"hi":18},{"p":"g","d":38,"lo":-17,"hi":16},{"p":"g","d":50,"lo":-16,"hi":15},{"p":"g","d":57.6,"lo":-9.1,"hi":8.2},{"p":"g","d":67.5,"lo":-10.2,"hi":9.8},{"p":"g","d":77.4,"lo":-8.6,"hi":9},{"p":"g","d":85,"lo":-9,"hi":8.7},{"p":"g","d":96,"lo":-9.7,"hi":10.5},{"p":"g","d":101,"lo":-11.2,"hi":10.8},{"p":"g","d":110,"lo":-10.2,"hi":10.3},{"p":"g","d":120,"lo":-14.4,"hi":13.4},
{"p":"d","d":0,"lo":-2.4,"hi":1.8},{"p":"d","d":10,"lo":-1.3,"hi":1.0},{"p":"d","d":20,"lo":-0.6,"hi":0.5},{"p":"d","d":33,"lo":-0.1,"hi":0.1},{"p":"d","d":35,"lo":0,"hi":0},
{"p":"e","d":0,"lo":-9.7,"hi":10},{"p":"e","d":10,"lo":-15.6,"hi":15.9},{"p":"e","d":24.8,"lo":-8.9,"hi":9.2},{"p":"e","d":50,"lo":-8.6,"hi":8.7},{"p":"e","d":91.6,"lo":-8,"hi":8.1},{"p":"e","d":107,"lo":-6.7,"hi":7},{"p":"e","d":120,"lo":-5.6,"hi":5.6},
{"p":"zh","d":0,"lo":-8.1,"hi":7.5},{"p":"zh","d":15,"lo":-7.5,"hi":7.3},{"p":"zh","d":22.6,"lo":-3.4,"hi":2.6},{"p":"zh","d":39,"lo":-2.4,"hi":2.3},{"p":"zh","d":61,"lo":-1.5,"hi":1.3},{"p":"zh","d":68.6,"lo":0,"hi":0},
{"p":"z","d":0,"lo":-0.8,"hi":0.8},{"p":"z","d":56,"lo":-0.8,"hi":0.8},{"p":"z","d":61,"lo":-3.4,"hi":3.4},{"p":"z","d":90,"lo":-3.5,"hi":3.5},{"p":"z","d":120,"lo":-3.2,"hi":3.2},
{"p":"i","d":0,"hi":1.65},{"p":"i","d":9.5,"hi":1.84},{"p":"i","d":19.4,"hi":1.18},{"p":"i","d":24.3,"hi":0.57},{"p":"i","d":39,"hi":0.44},{"p":"i","d":50,"hi":0.41},{"p":"i","d":61,"hi":0.29},{"p":"i","d":82.8,"hi":0.23},{"p":"i","d":120,"hi":0.19}
]
},
"config":{
"view":{"stroke":null},
"font":"Liberation Serif",
"title":{"font":"Liberation Serif","color":"#000","fontWeight":"normal","fontSize":21},
"axis":{"grid":false,"domainColor":"#000","tickColor":"#000","labelColor":"#000","titleColor":"#000","labelFont":"Liberation Serif","titleFont":"Liberation Serif","titleFontWeight":"normal","labelFlush":false,"labelOverlap":false,"domainWidth":1,"tickWidth":1,"labelFontSize":17,"tickSize":5,"labelPadding":3}
},
"columns":9,
"spacing":{"row":145,"column":0},
"bounds":"flush",
"concat":[
{"width":148,"height":329,"data":{"name":"A"},"transform":[{"filter":"datum.p=='a'"}],
 "title":{"text":"а","orient":"bottom","frame":"group","anchor":"start","align":"center","dx":53,"offset":-10,"baseline":"alphabetic"},
 "mark":{"type":"area","orient":"horizontal","fill":{"expr":"G_hv"},"stroke":"#000","strokeWidth":1},
 "encoding":{
  "y":{"field":"d","type":"quantitative","scale":{"domain":[0,120],"reverse":true,"nice":false,"zero":false},"axis":{"values":[0,30,60,90,120],"labelFontSize":21,"tickSize":7,"labelPadding":6,"title":"см","titleAngle":0,"titleX":-18,"titleY":358,"titleAlign":"center","titleBaseline":"alphabetic","titleFontSize":21}},
  "x":{"field":"lo","type":"quantitative","scale":{"domain":[-2.5,2.5],"range":[0,106],"nice":false,"zero":false},"axis":{"orient":"top","values":[-2,0,2],"labelExpr":"abs(datum.value)","title":"% к почве","titleX":39,"titleY":-41,"titleAlign":"center","titleBaseline":"alphabetic","titleFontSize":23}},
  "x2":{"field":"hi"}}},
{"width":142,"height":329,"data":{"name":"A"},"transform":[{"filter":"datum.p=='b'"}],
 "title":{"text":"б","orient":"bottom","frame":"group","anchor":"start","align":"center","dx":52.5,"offset":21,"baseline":"alphabetic"},
 "mark":{"type":"area","orient":"horizontal","fill":{"expr":"G_hd"},"stroke":"#000","strokeWidth":1},
 "encoding":{"y":{"field":"d","type":"quantitative","scale":{"domain":[0,120],"reverse":true,"nice":false,"zero":false},"axis":null},
  "x":{"field":"lo","type":"quantitative","scale":{"domain":[-26,26],"range":[-2,107],"nice":false,"zero":false},"axis":{"orient":"top","values":[-20,0,20],"labelExpr":"abs(datum.value)","title":null,"grid":true,"gridColor":{"condition":{"test":"datum.value===0","value":"#000"},"value":"rgba(0,0,0,0)"},"gridWidth":1.3,"zindex":1}},
  "x2":{"field":"hi"}}},
{"width":164,"height":329,"data":{"name":"A"},"transform":[{"filter":"datum.p=='v'"}],
 "title":{"text":"в","orient":"bottom","frame":"group","anchor":"start","align":"center","dx":69,"offset":21,"baseline":"alphabetic"},
 "mark":{"type":"area","orient":"horizontal","fill":{"expr":"G_hh"},"stroke":"#000","strokeWidth":1},
 "encoding":{"y":{"field":"d","type":"quantitative","scale":{"domain":[0,120],"reverse":true,"nice":false,"zero":false},"axis":null},
  "x":{"field":"lo","type":"quantitative","scale":{"domain":[-40,40],"range":[-2,140],"nice":false,"zero":false},"axis":{"orient":"top","values":[-20,0,20],"labelExpr":"abs(datum.value)","title":null}},
  "x2":{"field":"hi"}}},
{"width":187,"height":329,"data":{"name":"A"},"transform":[{"filter":"datum.p=='g'"}],
 "title":{"text":"г","orient":"bottom","frame":"group","anchor":"start","align":"center","dx":76,"offset":21,"baseline":"alphabetic"},
 "encoding":{"y":{"field":"d","type":"quantitative","scale":{"domain":[0,120],"reverse":true,"nice":false,"zero":false},"axis":null},
  "x":{"field":"lo","type":"quantitative","scale":{"domain":[-25,25],"range":[-3,155],"nice":false,"zero":false},"axis":{"orient":"top","values":[-20,0,20],"labelExpr":"abs(datum.value)","title":null,"grid":true,"gridColor":{"condition":{"test":"datum.value===0","value":"#000"},"value":"rgba(0,0,0,0)"},"gridWidth":1.7,"zindex":1}},
  "x2":{"field":"hi"}},
 "layer":[
  {"mark":{"type":"area","orient":"horizontal","fill":{"expr":"G_g1"},"stroke":"#000","strokeWidth":1}},
  {"mark":{"type":"area","orient":"horizontal","fill":{"expr":"G_g2"}}}
 ]},
{"width":128,"height":329,"data":{"name":"A"},"transform":[{"filter":"datum.p=='d'"}],
 "title":{"text":"д","orient":"bottom","frame":"group","anchor":"start","align":"center","dx":45,"offset":21,"baseline":"alphabetic"},
 "mark":{"type":"area","orient":"horizontal","fill":{"expr":"G_hd"},"stroke":"#000","strokeWidth":1},
 "encoding":{"y":{"field":"d","type":"quantitative","scale":{"domain":[0,120],"reverse":true,"nice":false,"zero":false},"axis":{"orient":"left","offset":-45,"domain":false,"labels":false,"values":[10,20,30,40,50,60,70,80,90,100,110],"tickSize":3,"title":null}},
  "x":{"field":"lo","type":"quantitative","scale":{"domain":[-20,20],"range":[-3,93],"nice":false,"zero":false},"axis":{"orient":"top","values":[-20,0,20],"labelExpr":"abs(datum.value)","title":"А","titleX":-40,"titleY":-74,"titleAlign":"center","titleBaseline":"alphabetic","titleFontSize":28,"titleFontWeight":"bold","grid":true,"gridColor":{"condition":{"test":"datum.value===0","value":"#000"},"value":"rgba(0,0,0,0)"},"gridWidth":1.5,"zindex":1}},
  "x2":{"field":"hi"}}},
{"width":162,"height":329,"data":{"name":"A"},"transform":[{"filter":"datum.p=='e'"}],
 "title":{"text":"е","orient":"bottom","frame":"group","anchor":"start","align":"center","dx":56.5,"offset":21,"baseline":"alphabetic"},
 "encoding":{"y":{"field":"d","type":"quantitative","scale":{"domain":[0,120],"reverse":true,"nice":false,"zero":false},"axis":null},
  "x":{"field":"lo","type":"quantitative","scale":{"domain":[-20,20],"range":[-4,117],"nice":false,"zero":false},"axis":{"orient":"top","values":[-20,0,20],"labelExpr":"abs(datum.value)","title":null,"grid":true,"gridColor":{"condition":{"test":"datum.value===0","value":"#000"},"value":"rgba(0,0,0,0)"},"gridWidth":2,"zindex":1}},
  "x2":{"field":"hi"}},
 "layer":[
  {"mark":{"type":"area","orient":"horizontal","fill":{"expr":"G_eh"},"stroke":"#000","strokeWidth":1}},
  {"mark":{"type":"area","orient":"horizontal","fill":{"expr":"G_ev"}}}
 ]},
{"width":97,"height":329,"data":{"name":"A"},"transform":[{"filter":"datum.p=='zh'"}],
 "title":{"text":"ж","orient":"bottom","frame":"group","anchor":"start","align":"center","dx":32.5,"offset":21,"baseline":"alphabetic"},
 "mark":{"type":"area","orient":"horizontal","fill":{"expr":"G_jd"},"stroke":"#000","strokeWidth":1},
 "encoding":{"y":{"field":"d","type":"quantitative","scale":{"domain":[0,120],"reverse":true,"nice":false,"zero":false},"axis":null},
  "x":{"field":"lo","type":"quantitative","scale":{"domain":[-20,20],"range":[-3,68],"nice":false,"zero":false},"axis":{"orient":"top","values":[-20,0,20],"labelExpr":"abs(datum.value)","title":null,"grid":true,"gridColor":{"condition":{"test":"datum.value===0","value":"#000"},"value":"rgba(0,0,0,0)"},"gridWidth":1.6,"zindex":1}},
  "x2":{"field":"hi"}}},
{"width":95,"height":329,"data":{"name":"A"},"transform":[{"filter":"datum.p=='z'"}],
 "title":{"text":"з","orient":"bottom","frame":"group","anchor":"start","align":"center","dx":30,"offset":21,"baseline":"alphabetic"},
 "encoding":{"y":{"field":"d","type":"quantitative","scale":{"domain":[0,120],"reverse":true,"nice":false,"zero":false},"axis":null},
  "x":{"field":"lo","type":"quantitative","scale":{"domain":[-20,20],"range":[-4,64],"nice":false,"zero":false},"axis":{"orient":"top","values":[-20,0,20],"labelExpr":"abs(datum.value)","title":null,"grid":true,"gridColor":{"condition":{"test":"datum.value===0","value":"#000"},"value":"rgba(0,0,0,0)"},"gridWidth":1.3,"zindex":1}},
  "x2":{"field":"hi"}},
 "layer":[
  {"mark":{"type":"area","orient":"horizontal","fill":{"expr":"G_eh"},"stroke":"#000","strokeWidth":1}},
  {"mark":{"type":"area","orient":"horizontal","fill":{"expr":"G_zv"}}}
 ]},
{"width":55,"height":329,"data":{"name":"A"},"transform":[{"filter":"datum.p=='i'"}],
 "title":{"text":"и","orient":"bottom","frame":"group","anchor":"start","align":"center","dx":-5,"offset":21,"baseline":"alphabetic"},
 "mark":{"type":"line","color":"#000","strokeWidth":1},
 "encoding":{"y":{"field":"d","type":"quantitative","scale":{"domain":[0,120],"reverse":true,"nice":false,"zero":false},"axis":{"orient":"right","offset":-60,"domain":false,"labels":false,"values":[20,40,60,80,100],"tickSize":4,"title":null}},
  "x":{"field":"hi","type":"quantitative","scale":{"domain":[0,2.31],"range":[-5,55],"nice":false,"zero":false},"axis":{"orient":"top","values":[0,2],"labelExpr":"abs(datum.value)","title":"% к Сорг","titleX":-16,"titleY":-41,"titleAlign":"center","titleBaseline":"alphabetic","titleFontSize":23,"domainWidth":1.5,"grid":true,"gridColor":{"condition":{"test":"datum.value===0","value":"#000"},"value":"rgba(0,0,0,0)"},"gridWidth":1.3,"zindex":1}},
  "order":{"field":"d","type":"quantitative"}}},
{"width":148,"height":366,"data":{"name":"B"},"transform":[{"filter":"datum.p=='a'"}],
 "title":{"text":"а","orient":"bottom","frame":"group","anchor":"start","align":"center","dx":52.5,"offset":-13,"baseline":"alphabetic"},
 "mark":{"type":"area","orient":"horizontal","fill":{"expr":"G_hv"},"stroke":"#000","strokeWidth":1},
 "encoding":{
  "y":{"field":"d","type":"quantitative","scale":{"domain":[0,120],"reverse":true,"nice":false,"zero":false},"axis":{"values":[0,30,60,90,120],"labelFontSize":21,"tickSize":7,"labelPadding":6,"title":"см","titleAngle":0,"titleX":-18,"titleY":393,"titleAlign":"center","titleBaseline":"alphabetic","titleFontSize":21}},
  "x":{"field":"lo","type":"quantitative","scale":{"domain":[-2.5,2.5],"range":[0,105],"nice":false,"zero":false},"axis":{"orient":"top","values":[-2,0,2],"labelExpr":"abs(datum.value)","title":"% к почве","titleX":39,"titleY":-46,"titleAlign":"center","titleBaseline":"alphabetic","titleFontSize":23,"grid":true,"gridColor":{"condition":{"test":"datum.value===0","value":"#000"},"value":"rgba(0,0,0,0)"},"gridWidth":1,"zindex":1}},
  "x2":{"field":"hi"}}},
{"width":142,"height":366,"data":{"name":"B"},"transform":[{"filter":"datum.p=='b'"}],
 "title":{"text":"б","orient":"bottom","frame":"group","anchor":"start","align":"center","dx":53.5,"offset":15,"baseline":"alphabetic"},
 "mark":{"type":"area","orient":"horizontal","fill":{"expr":"G_hd"},"stroke":"#000","strokeWidth":1},
 "encoding":{"y":{"field":"d","type":"quantitative","scale":{"domain":[0,120],"reverse":true,"nice":false,"zero":false},"axis":null},
  "x":{"field":"lo","type":"quantitative","scale":{"domain":[-24.5,24.5],"range":[0,107],"nice":false,"zero":false},"axis":{"orient":"top","values":[-20,0,20],"labelExpr":"abs(datum.value)","title":null,"grid":true,"gridColor":{"condition":{"test":"datum.value===0","value":"#000"},"value":"rgba(0,0,0,0)"},"gridWidth":1.3,"zindex":1}},
  "x2":{"field":"hi"}}},
{"width":164,"height":366,"data":{"name":"B"},"transform":[{"filter":"datum.p=='v'"}],
 "title":{"text":"в","orient":"bottom","frame":"group","anchor":"start","align":"center","dx":71.5,"offset":15,"baseline":"alphabetic"},
 "mark":{"type":"area","orient":"horizontal","fill":{"expr":"G_hh"},"stroke":"#000","strokeWidth":1},
 "encoding":{"y":{"field":"d","type":"quantitative","scale":{"domain":[0,120],"reverse":true,"nice":false,"zero":false},"axis":{"orient":"left","offset":-71.5,"domain":false,"labels":false,"values":[10,20,30,40,50,60,70,80,90,100,110],"tickSize":3,"title":null,"zindex":1}},
  "x":{"field":"lo","type":"quantitative","scale":{"domain":[-40,40],"range":[0,143],"nice":false,"zero":false},"axis":{"orient":"top","values":[-40,-20,0,20,40],"labelExpr":"abs(datum.value)","title":null,"grid":true,"gridColor":{"condition":{"test":"datum.value===0","value":"#000"},"value":"rgba(0,0,0,0)"},"gridWidth":1.6,"zindex":1}},
  "x2":{"field":"hi"}}},
{"width":187,"height":366,"data":{"name":"B"},"transform":[{"filter":"datum.p=='g'"}],
 "title":{"text":"г","orient":"bottom","frame":"group","anchor":"start","align":"center","dx":78.5,"offset":15,"baseline":"alphabetic"},
 "encoding":{"y":{"field":"d","type":"quantitative","scale":{"domain":[0,120],"reverse":true,"nice":false,"zero":false},"axis":null},
  "x":{"field":"lo","type":"quantitative","scale":{"domain":[-25,25],"range":[0,157],"nice":false,"zero":false},"axis":{"orient":"top","values":[-20,0,20],"labelExpr":"abs(datum.value)","title":null,"grid":true,"gridColor":{"condition":{"test":"datum.value===0","value":"#000"},"value":"rgba(0,0,0,0)"},"gridWidth":1.7,"zindex":1}},
  "x2":{"field":"hi"}},
 "layer":[
  {"mark":{"type":"area","orient":"horizontal","fill":{"expr":"G_g1"},"stroke":"#000","strokeWidth":1}},
  {"mark":{"type":"area","orient":"horizontal","fill":{"expr":"G_g2"}}}
 ]},
{"width":128,"height":366,"data":{"name":"B"},"transform":[{"filter":"datum.p=='d'"}],
 "title":{"text":"д","orient":"bottom","frame":"group","anchor":"start","align":"center","dx":48,"offset":15,"baseline":"alphabetic"},
 "mark":{"type":"area","orient":"horizontal","fill":{"expr":"G_hd"},"stroke":"#000","strokeWidth":1},
 "encoding":{"y":{"field":"d","type":"quantitative","scale":{"domain":[0,120],"reverse":true,"nice":false,"zero":false},"axis":{"orient":"left","offset":-48,"domain":false,"labels":false,"values":[10,20,30,40,50,60,70,80,90,100,110],"tickSize":3,"title":null}},
  "x":{"field":"lo","type":"quantitative","scale":{"domain":[-20,20],"range":[0,96],"nice":false,"zero":false},"axis":{"orient":"top","values":[-20,0,20],"labelExpr":"abs(datum.value)","title":"Б","titleX":-41,"titleY":-74,"titleAlign":"center","titleBaseline":"alphabetic","titleFontSize":28,"titleFontWeight":"bold","grid":true,"gridColor":{"condition":{"test":"datum.value===0","value":"#000"},"value":"rgba(0,0,0,0)"},"gridWidth":1.5,"zindex":1}},
  "x2":{"field":"hi"}}},
{"width":162,"height":366,"data":{"name":"B"},"transform":[{"filter":"datum.p=='e'"}],
 "title":{"text":"е","orient":"bottom","frame":"group","anchor":"start","align":"center","dx":60,"offset":15,"baseline":"alphabetic"},
 "encoding":{"y":{"field":"d","type":"quantitative","scale":{"domain":[0,120],"reverse":true,"nice":false,"zero":false},"axis":null},
  "x":{"field":"lo","type":"quantitative","scale":{"domain":[-20,20],"range":[0,120],"nice":false,"zero":false},"axis":{"orient":"top","values":[-20,0,20],"labelExpr":"abs(datum.value)","title":null,"grid":true,"gridColor":{"condition":{"test":"datum.value===0","value":"#000"},"value":"rgba(0,0,0,0)"},"gridWidth":1.8,"zindex":1}},
  "x2":{"field":"hi"}},
 "layer":[
  {"mark":{"type":"area","orient":"horizontal","fill":{"expr":"G_eh"},"stroke":"#000","strokeWidth":1}},
  {"mark":{"type":"area","orient":"horizontal","fill":{"expr":"G_ev"}}}
 ]},
{"width":97,"height":366,"data":{"name":"B"},"transform":[{"filter":"datum.p=='zh'"}],
 "title":{"text":"ж","orient":"bottom","frame":"group","anchor":"start","align":"center","dx":36,"offset":15,"baseline":"alphabetic"},
 "mark":{"type":"area","orient":"horizontal","fill":{"expr":"G_jd"},"stroke":"#000","strokeWidth":1},
 "encoding":{"y":{"field":"d","type":"quantitative","scale":{"domain":[0,120],"reverse":true,"nice":false,"zero":false},"axis":null},
  "x":{"field":"lo","type":"quantitative","scale":{"domain":[-20,20],"range":[0,72],"nice":false,"zero":false},"axis":{"orient":"top","values":[-20,0,20],"labelExpr":"abs(datum.value)","title":null,"grid":true,"gridColor":{"condition":{"test":"datum.value===0","value":"#000"},"value":"rgba(0,0,0,0)"},"gridWidth":1.5,"zindex":1}},
  "x2":{"field":"hi"}}},
{"width":95,"height":366,"data":{"name":"B"},"transform":[{"filter":"datum.p=='z'"}],
 "title":{"text":"з","orient":"bottom","frame":"group","anchor":"start","align":"center","dx":34,"offset":15,"baseline":"alphabetic"},
 "encoding":{"y":{"field":"d","type":"quantitative","scale":{"domain":[0,120],"reverse":true,"nice":false,"zero":false},"axis":null},
  "x":{"field":"lo","type":"quantitative","scale":{"domain":[-20,20],"range":[0,68],"nice":false,"zero":false},"axis":{"orient":"top","values":[-20,0,20],"labelExpr":"abs(datum.value)","title":null,"grid":true,"gridColor":{"condition":{"test":"datum.value===0","value":"#000"},"value":"rgba(0,0,0,0)"},"gridWidth":1.3,"zindex":1}},
  "x2":{"field":"hi"}},
 "layer":[
  {"mark":{"type":"area","orient":"horizontal","fill":{"expr":"G_eh"},"stroke":"#000","strokeWidth":1}},
  {"mark":{"type":"area","orient":"horizontal","fill":{"expr":"G_zv"}}}
 ]},
{"width":55,"height":366,"data":{"name":"B"},"transform":[{"filter":"datum.p=='i'"}],
 "title":{"text":"и","orient":"bottom","frame":"group","anchor":"start","align":"center","dx":0,"offset":15,"baseline":"alphabetic"},
 "mark":{"type":"line","color":"#000","strokeWidth":1},
 "encoding":{"y":{"field":"d","type":"quantitative","scale":{"domain":[0,120],"reverse":true,"nice":false,"zero":false},"axis":{"orient":"right","offset":-55,"domain":false,"labels":false,"values":[20,40,60,80,100],"tickSize":4,"title":null}},
  "x":{"field":"hi","type":"quantitative","scale":{"domain":[0,2.15],"range":[0,56],"nice":false,"zero":false},"axis":{"orient":"top","values":[0,2],"labelExpr":"abs(datum.value)","title":"% к Сорг","titleX":-11,"titleY":-46,"titleAlign":"center","titleBaseline":"alphabetic","titleFontSize":23,"domainWidth":1.5,"grid":true,"gridColor":{"condition":{"test":"datum.value===0","value":"#000"},"value":"rgba(0,0,0,0)"},"gridWidth":1.3,"zindex":1}},
  "order":{"field":"d","type":"quantitative"}}}
]
}
